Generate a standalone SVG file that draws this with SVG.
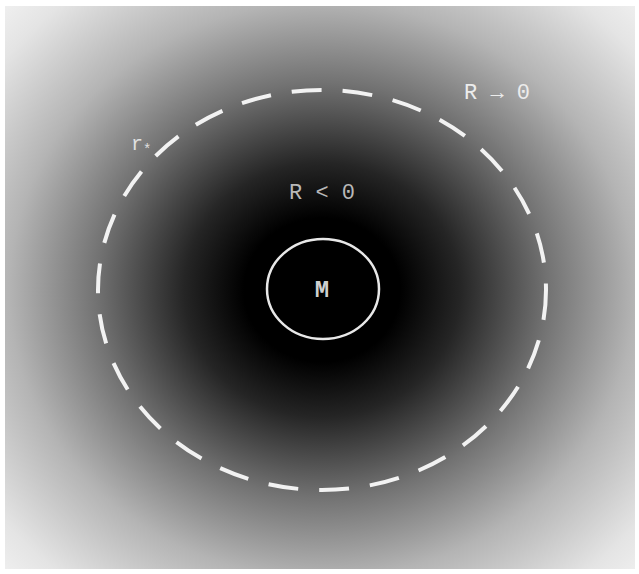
<svg xmlns="http://www.w3.org/2000/svg" width="639" height="574" viewBox="0 0 639 574">
<defs>
<radialGradient id="bg" gradientUnits="userSpaceOnUse" cx="322" cy="290" r="460" gradientTransform="translate(322 290) scale(1 0.92) translate(-322 -290)">
<stop offset="0" stop-color="#000"/>
<stop offset="0.17" stop-color="#000"/>
<stop offset="0.3" stop-color="#252525"/>
<stop offset="0.49" stop-color="#727272"/>
<stop offset="0.68" stop-color="#b4b4b4"/>
<stop offset="0.88" stop-color="#e4e4e4"/>
<stop offset="1" stop-color="#f4f4f4"/>
</radialGradient>
<style>
.lbl{font-family:"Liberation Mono","DejaVu Sans Mono",monospace;}
</style>
</defs>
<rect x="0" y="0" width="639" height="574" fill="#fff"/>
<rect x="5" y="6" width="630" height="563" fill="url(#bg)"/>
<g id="horizon">
<ellipse cx="322" cy="290" rx="224" ry="200" fill="none" stroke="#f2f2f2" stroke-width="4" stroke-dasharray="30 21"/>
</g>
<g id="mass">
<ellipse cx="323" cy="289" rx="56" ry="50" fill="none" stroke="#e8e8e8" stroke-width="2.5"/>
<text class="lbl" x="322" y="297" font-size="24" font-weight="bold" fill="#cfcfcf" text-anchor="middle">M</text>
</g>
<g id="labels">
<text class="lbl" x="322" y="199" font-size="22" fill="#b8b8b8" text-anchor="middle">R &lt; 0</text>
<text class="lbl" x="497" y="99" font-size="22" fill="#ececec" text-anchor="middle">R → 0</text>
<text class="lbl" x="131" y="150" font-size="20" fill="#e0e0e0">r<tspan font-size="14" dy="4">*</tspan></text>
</g>
</svg>
